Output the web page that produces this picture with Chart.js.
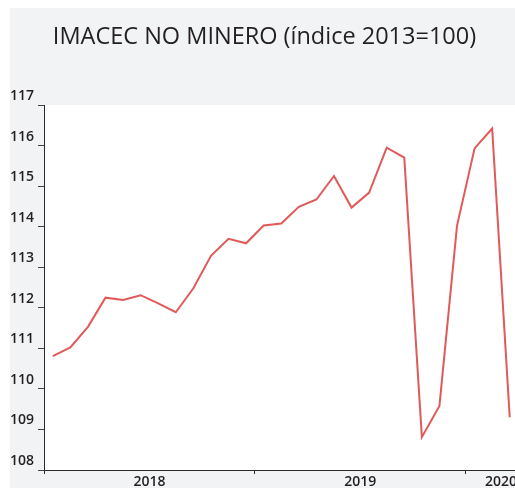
<!DOCTYPE html>
<html>
<head>
<meta charset="utf-8">
<script src="https://cdn.jsdelivr.net/npm/chart.js@4"></script>
<style>
  html, body { margin: 0; padding: 0; background: #ffffff; }
  #wrap { position: relative; width: 515px; height: 488px; }
</style>
</head>
<body>
<div id="wrap"><canvas id="c" width="515" height="488"></canvas></div>
<script>
// Monthly periods, Jan 2018 .. Mar 2020
const months = [
  '2018-01','2018-02','2018-03','2018-04','2018-05','2018-06','2018-07','2018-08','2018-09','2018-10','2018-11','2018-12',
  '2019-01','2019-02','2019-03','2019-04','2019-05','2019-06','2019-07','2019-08','2019-09','2019-10','2019-11','2019-12',
  '2020-01','2020-02','2020-03'
];
const imacecNoMinero = [
  110.81, 111.02, 111.53, 112.25, 112.19, 112.31, 112.11, 111.89, 112.48, 113.28, 113.70, 113.59,
  114.03, 114.08, 114.49, 114.67, 115.25, 114.47, 114.84, 115.95, 115.70, 108.81, 109.58, 114.02,
  115.93, 116.42, 109.30
];
const yearLabels = ['2018', '2019', '2020'];
const titleText = 'IMACEC NO MINERO (índice 2013=100)';

// x ticks: year boundaries (marks only) and year centres (labels only)
const xTickValues = [-0.5, 5.5, 11.5, 17.5, 23.5, 25.5];

const points = months.map((m, i) => ({ x: i, y: imacecNoMinero[i] }));

const bgPlugin = {
  id: 'bg',
  afterLayout(chart) {
    if (chart.titleBlock) { chart.titleBlock.left = 14; chart.titleBlock.right = 515; }
  },
  beforeDraw(chart) {
    const c = chart.ctx, a = chart.chartArea;
    c.save();
    c.fillStyle = '#f2f3f5';
    c.fillRect(10, 8, 505, 480);
    c.fillStyle = '#ffffff';
    c.fillRect(a.left, a.top, a.right - a.left, a.bottom - a.top);
    c.restore();
  }
};

new Chart(document.getElementById('c'), {
  type: 'line',
  data: {
    datasets: [{
      label: 'IMACEC no minero',
      data: points,
      borderColor: '#e05a5a',
      borderWidth: 2,
      pointRadius: 0,
      tension: 0,
      fill: false
    }]
  },
  options: {
    responsive: false,
    animation: false,
    devicePixelRatio: 1,
    layout: { padding: { left: 0, right: 0, top: 0, bottom: 0 } },
    plugins: {
      legend: { display: false },
      tooltip: { enabled: false },
      title: {
        display: true,
        text: titleText,
        color: '#231f20',
        font: { family: "'Open Sans', sans-serif", size: 23.5, weight: 'normal', lineHeight: 1.2 },
        padding: { top: 23, bottom: 53.8 }
      }
    },
    scales: {
      x: {
        type: 'linear',
        min: -0.5,
        max: 26.3,
        afterBuildTicks(s) { s.ticks = xTickValues.map(v => ({ value: v })); },
        afterFit(s) { s.height = 18; s.paddingLeft = 0; s.paddingRight = 0; },
        border: { display: true, color: '#2b2b2b', width: 1 },
        grid: {
          drawOnChartArea: false,
          tickLength: 4,
          tickWidth: 1,
          tickColor: ctx => (ctx.index % 2 === 0 ? '#2b2b2b' : 'rgba(0,0,0,0)')
        },
        ticks: {
          autoSkip: false,
          maxRotation: 0,
          padding: 0,
          color: '#231f20',
          font: { family: "'Open Sans', sans-serif", size: 14, weight: '600' },
          callback: (v, i) => (i % 2 === 1 ? yearLabels[(i - 1) / 2] : '')
        }
      },
      y: {
        min: 108,
        max: 117,
        afterFit(s) { s.width = 44; s.paddingTop = 0; s.paddingBottom = 0; },
        border: { display: true, color: '#2b2b2b', width: 1 },
        grid: { drawOnChartArea: false, tickLength: 6, tickColor: '#444' },
        ticks: {
          stepSize: 1,
          padding: 4,
          labelOffset: -9,
          color: '#231f20',
          font: { family: "'Open Sans', sans-serif", size: 14, weight: '600' }
        }
      }
    }
  },
  plugins: [bgPlugin]
});
</script>
</body>
</html>
